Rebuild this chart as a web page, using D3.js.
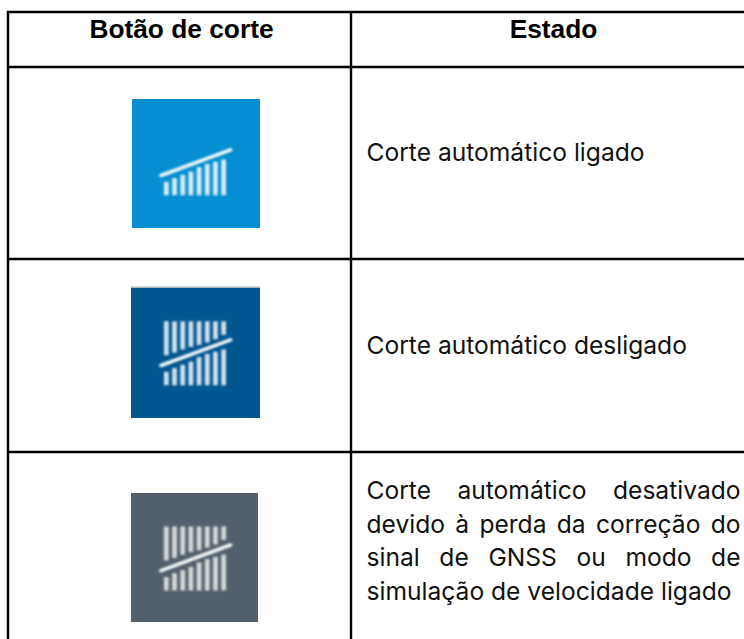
<!DOCTYPE html>
<html><head><meta charset="utf-8">
<script src="https://cdn.jsdelivr.net/npm/d3@7"></script>
<style>html,body{margin:0;padding:0;background:#fff}svg{display:block}</style>
</head><body><svg id="c" width="744" height="639"></svg>
<script>
const headers = ["Botão de corte", "Estado"];
const rowStates = ["Corte automático ligado", "Corte automático desligado",
  "Corte automático desativado|devido à perda da correção do|sinal de GNSS ou modo de|simulação de velocidade ligado"];
const iconColors = ["#058ed1", "#00568f", "#53606c"];
const barColors = ["#d8eef8", "#d3e2ee", "#d5d8d6"];
const barSlots = [0,1,2,3,4,5,6,7];
// heights in icon units (0 = bar foot, 100 = top of the full bar)
const lowerTops = [21,27,32,37,44,49,52.5,56];
const upperFoots = [47,51,56,60,63,67,72,79];
const fullBars = [false, true, true];

const svg = d3.select("#c");
const ink = "#000";
const xRule = [8, 351, 744], yRule = [12, 67, 259, 452, 639];

const g = svg.append("g");
[xRule[0], xRule[1]].forEach(x => g.append("line").attr("x1",x).attr("x2",x).attr("y1",yRule[0]-1).attr("y2",639).attr("stroke",ink).attr("stroke-width",2.4));
yRule.slice(0,4).forEach(y => g.append("line").attr("x1",xRule[0]-1).attr("x2",744).attr("y1",y).attr("y2",y).attr("stroke",ink).attr("stroke-width",2.4));

const hf = "'Liberation Sans',sans-serif", bf = "Inter,sans-serif";
const hx = [181.5, 553.5];
headers.forEach((h,i)=> svg.append("text").attr("x",hx[i]).attr("y",38).attr("text-anchor","middle")
  .attr("font-family",hf).attr("font-weight",700).attr("font-size",26.3).attr("fill",ink).text(h));

const fs = 24.6;
function textRow(lines, y0, lh, justify){
  lines.forEach((l,i)=>{
    const t = svg.append("text").attr("x",366.5).attr("y",y0+i*lh).attr("font-family",bf)
      .attr("font-size",fs).attr("fill","#111").text(l);
    if(justify && i<lines.length-1){
      const w = t.node().getComputedTextLength(), n = l.split(" ").length-1;
      t.attr("word-spacing",(740.5-366.5-w)/n);
    }
  });
}
textRow(rowStates[0].split("|"),161,0,false);
textRow(rowStates[1].split("|"),354,0,false);
textRow(rowStates[2].split("|"),499,33.7,true);

const defs = svg.append("defs");
defs.append("filter").attr("id","b").attr("x","-10%").attr("y","-10%").attr("width","120%").attr("height","120%")
  .append("feGaussianBlur").attr("stdDeviation",0.8);

const icons = [
 {x:132,y:99,w:128,h:129,base:195.3},
 {x:131,y:288,w:129,h:130,base:385.3},
 {x:131,y:493,w:127,h:129,base:590.5}
];
icons.forEach((ic,i)=>{
  svg.append("rect").attr("x",ic.x).attr("y",ic.y).attr("width",ic.w).attr("height",ic.h).attr("fill",iconColors[i]);
  if(i===1) svg.append("rect").attr("x",ic.x).attr("y",ic.y-1.5).attr("width",ic.w).attr("height",1.5).attr("fill","#a9b3ba");
  const gi = svg.append("g").attr("filter","url(#b)");
  const x = d3.scaleBand().domain(barSlots).range([161.6,228.4]).paddingInner(0.42).paddingOuter(0.29);
  const y = d3.scaleLinear().domain([0,100]).range([ic.base, ic.base-64]);
  gi.selectAll("rect.l").data(lowerTops).join("rect").attr("x",(d,j)=>x(j)).attr("width",x.bandwidth())
    .attr("y",d=>y(d)).attr("height",d=>y(0)-y(d)).attr("fill",barColors[i]);
  if(fullBars[i]) gi.selectAll("rect.u").data(upperFoots).join("rect").attr("class","u").attr("x",(d,j)=>x(j)).attr("width",x.bandwidth())
    .attr("y",y(100)).attr("height",d=>y(d)-y(100)).attr("fill",barColors[i]);
  gi.append("line").attr("x1",161).attr("x2",230.5).attr("y1",y(31)).attr("y2",y(71))
    .attr("stroke","#f6f8f8").attr("stroke-width",3.6).attr("stroke-linecap","round");
});
</script></body></html>
